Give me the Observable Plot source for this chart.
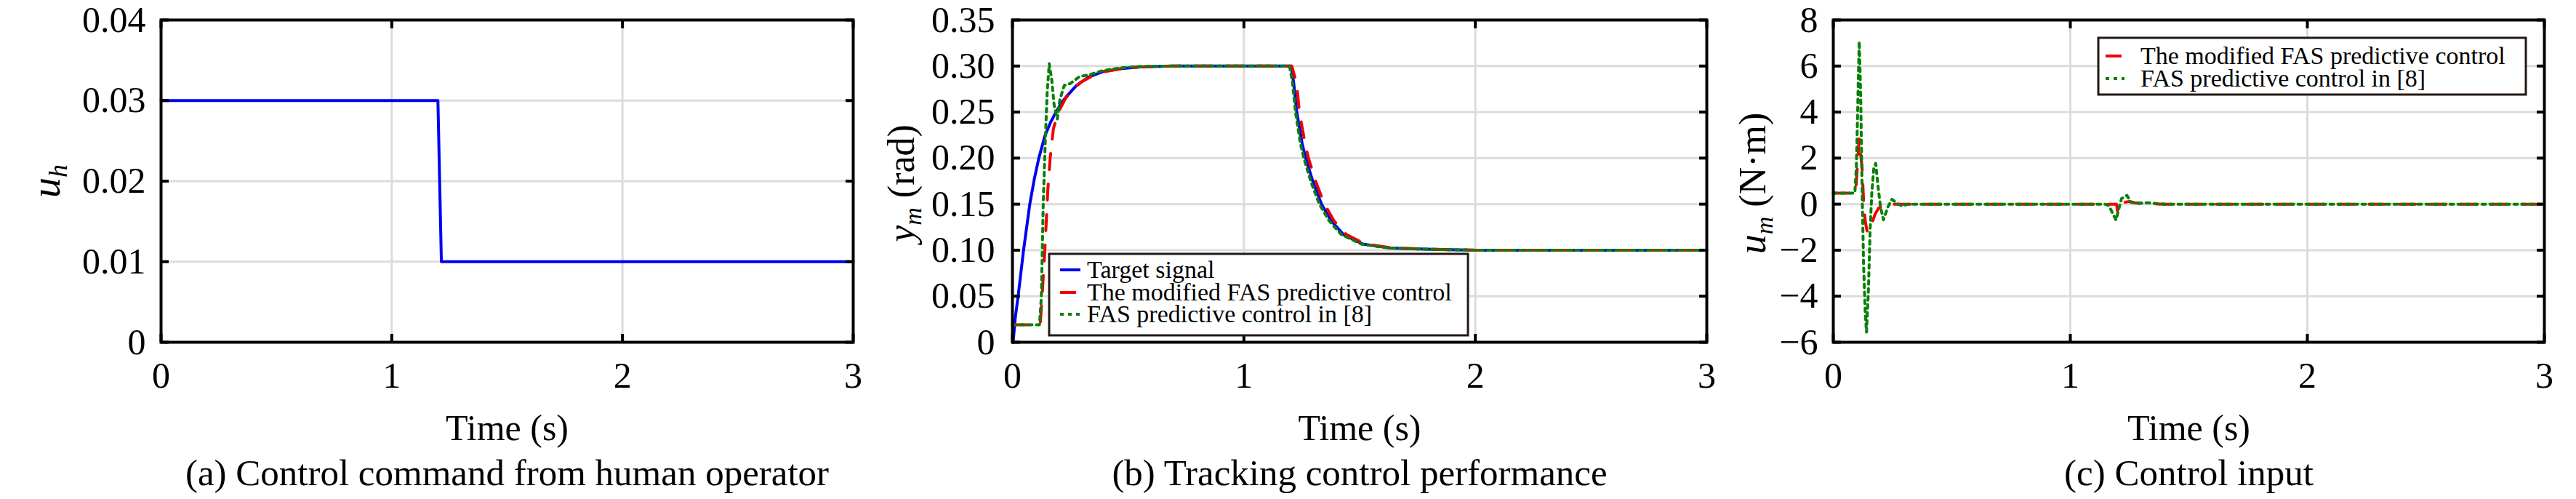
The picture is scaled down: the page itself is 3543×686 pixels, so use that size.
<!DOCTYPE html>
<html>
<head>
<meta charset="utf-8">
<script src="https://cdn.jsdelivr.net/npm/d3@7"></script>
<script src="https://cdn.jsdelivr.net/npm/@observablehq/plot@0.6"></script>
<style>
  body { margin: 0; background: #fff; }
  #wrap { position: relative; width: 3543px; height: 686px; background: #fff; overflow: hidden; }
  #wrap > svg { position: absolute; top: 0; }
</style>
</head>
<body>
<div id="wrap"></div>
<script>
// ---------------- data ----------------
const xTicks = [0, 1, 2, 3];

// (a) control command from human operator
const tCommand = [0, 1.2, 1.215, 3];
const uCommand = [0.03, 0.03, 0.01, 0.01];
const yTicksA = [0, 0.01, 0.02, 0.03, 0.04];

// (b) tracking control performance
const tTarget = [0, 0.003, 0.012, 0.025, 0.048, 0.075, 0.095, 0.114, 0.14, 0.165, 0.188, 0.212, 0.237, 0.277, 0.329, 0.392, 0.465, 0.55, 0.7, 1.204, 1.215, 1.2285, 1.2516, 1.267, 1.2987, 1.3355, 1.377, 1.43, 1.5135, 1.629, 1.786, 2.0, 3];
const yTarget = [0, 0, 0.026, 0.051, 0.100, 0.150, 0.178, 0.200, 0.224, 0.239, 0.250, 0.260, 0.268, 0.279, 0.288, 0.294, 0.297, 0.299, 0.300, 0.300, 0.282, 0.250, 0.216, 0.200, 0.174, 0.150, 0.132, 0.117, 0.1067, 0.1024, 0.1011, 0.100, 0.100];

const tModified = [0, 0.12, 0.127, 0.14, 0.153, 0.163, 0.177, 0.198, 0.23, 0.27, 0.3, 0.35, 0.4, 0.47, 0.55, 0.7, 1.207, 1.227, 1.24, 1.264, 1.279, 1.311, 1.348, 1.389, 1.442, 1.525, 1.64, 1.8, 2.0, 3];
const yModified = [0.019, 0.019, 0.045, 0.100, 0.166, 0.200, 0.232, 0.250, 0.265, 0.277, 0.283, 0.290, 0.294, 0.297, 0.299, 0.300, 0.300, 0.282, 0.250, 0.216, 0.200, 0.174, 0.150, 0.132, 0.117, 0.1067, 0.1024, 0.1011, 0.100, 0.100];

const tFas = [0, 0.117, 0.125, 0.133, 0.142, 0.15, 0.159, 0.17, 0.18, 0.194, 0.205, 0.224, 0.25, 0.29, 0.33, 0.39, 0.465, 0.55, 0.7, 1.197, 1.21, 1.223, 1.244, 1.259, 1.29, 1.326, 1.368, 1.421, 1.506, 1.622, 1.78, 2.0, 3];
const yFas = [0.019, 0.019, 0.050, 0.150, 0.219, 0.271, 0.3026, 0.2846, 0.258, 0.2425, 0.2635, 0.279, 0.281, 0.2886, 0.2905, 0.295, 0.298, 0.2995, 0.300, 0.300, 0.282, 0.250, 0.216, 0.200, 0.174, 0.150, 0.132, 0.117, 0.1067, 0.1024, 0.1011, 0.100, 0.100];
const yTicksB = [0, 0.05, 0.10, 0.15, 0.20, 0.25, 0.30, 0.35];

// (c) control input
const tModifiedU = [0, 0.094, 0.101, 0.109, 0.1217, 0.128, 0.135, 0.142, 0.148, 0.16, 0.176, 0.191, 0.212, 0.253, 1.195, 1.2, 1.214, 1.229, 1.25, 1.275, 1.326, 1.388, 3];
const uModified = [0.48, 0.48, 1.56, 2.83, 1.56, 0.08, -0.76, -1.15, -1.23, -0.92, -0.44, -0.18, -0.05, 0, 0, -0.38, -0.07, 0.08, 0.12, 0.05, 0.03, 0, 0];

const tFasU = [0, 0.091, 0.097, 0.102, 0.1063, 0.1094, 0.1155, 0.1217, 0.1278, 0.135, 0.1401, 0.1483, 0.1554, 0.1626, 0.1708, 0.179, 0.1892, 0.1994, 0.2117, 0.2301, 0.2474, 0.273, 0.2914, 0.3139, 1.147, 1.163, 1.178, 1.193, 1.204, 1.216, 1.239, 1.255, 1.285, 1.321, 1.4, 3];
const uFas = [0.48, 0.48, 1.56, 3.67, 5.78, 7.07, 4.72, 0.5, -2.66, -4.77, -5.56, -3.71, -1.08, 0.5, 1.56, 1.77, 0.72, -0.13, -0.68, -0.13, 0.21, 0, -0.08, 0, 0, -0.07, -0.39, -0.69, -0.23, 0.24, 0.38, 0.08, 0.03, 0.06, 0, 0];
const yTicksC = [-6, -4, -2, 0, 2, 4, 6, 8];

const labelTarget = "Target signal";
const labelModified = "The modified FAS predictive control";
const labelFas = "FAS predictive control in [8]";
const captions = ["(a) Control command from human operator", "(b) Tracking control performance", "(c) Control input"];

// ---------------- styles ----------------
const FONT = '"Liberation Serif","Times New Roman",Times,serif';
const BLUE = "#0000f0", RED = "#f00000", GREEN = "#0a800a";
const DASH_RED = "22,20", DASH_GREEN = "5,6";

const rows = (t, v) => t.map((d, i) => ({t: d, v: v[i]}));

function panel({left, width, ml, mr, yDomain, yTicks, yFmt, series, tickPad, caption}) {
  const tickOpts = {tickSize: -11, strokeWidth: 4, tickFormat: () => "", label: null};
  const marks = [
    Plot.gridX(xTicks, {stroke: "#dcdcdc", strokeOpacity: 1, strokeWidth: 3}),
    Plot.gridY(yTicks, {stroke: "#dcdcdc", strokeOpacity: 1, strokeWidth: 3}),
    ...series.map(s => Plot.line(s.data, {x: "t", y: "v", stroke: s.color, strokeWidth: 4, strokeDasharray: s.dash, strokeLinejoin: "round"})),
    Plot.frame({stroke: "black", strokeWidth: 4}),
    Plot.axisX(xTicks, {anchor: "bottom", tickSize: 0, tickPadding: 27, fontSize: 50, tickFormat: d => String(d), label: null}),
    Plot.axisX(xTicks, {anchor: "bottom", ...tickOpts}),
    Plot.axisX(xTicks, {anchor: "top", ...tickOpts}),
    Plot.axisY(yTicks, {anchor: "left", tickSize: 0, tickPadding: tickPad, fontSize: 50, tickFormat: yFmt, label: null}),
    Plot.axisY(yTicks, {anchor: "left", ...tickOpts}),
    Plot.axisY(yTicks, {anchor: "right", ...tickOpts}),
    Plot.text(["Time (s)"], {text: d => d, frameAnchor: "bottom", lineAnchor: "bottom", dy: 134, fontSize: 50}),
    Plot.text([caption], {text: d => d, frameAnchor: "bottom", lineAnchor: "bottom", dy: 196, fontSize: 51})
  ];
  const svg = Plot.plot({
    width, height: 686,
    marginLeft: ml, marginRight: mr, marginTop: 27, marginBottom: 216,
    x: {domain: [0, 3]},
    y: {domain: yDomain},
    style: {fontFamily: FONT, background: "white", color: "black"},
    marks
  });
  svg.style.left = left + "px";
  return svg;
}

function addYLabel(svg, x, y, parts) {
  const t = d3.select(svg).append("text")
    .attr("transform", `translate(${x},${y}) rotate(-90)`)
    .attr("text-anchor", "middle")
    .attr("font-family", FONT)
    .attr("fill", "black");
  parts.forEach(p => t.append("tspan")
    .attr("font-style", p.italic ? "italic" : "normal")
    .attr("font-size", p.size)
    .attr("dy", p.dy || 0)
    .text(p.text));
}

function addLegend(svg, box, items, sx, tx, rowY) {
  const g = d3.select(svg).append("g").attr("text-anchor", "start");
  g.append("rect").attr("x", box[0]).attr("y", box[1]).attr("width", box[2]).attr("height", box[3])
    .attr("fill", "white").attr("stroke", "#231815").attr("stroke-width", 3);
  items.forEach((it, i) => {
    g.append("line").attr("x1", sx[0]).attr("x2", sx[1]).attr("y1", rowY[i]).attr("y2", rowY[i])
      .attr("stroke", it.color).attr("stroke-width", 4).attr("stroke-dasharray", it.dash || null);
    g.append("text").attr("x", tx).attr("y", rowY[i]).attr("dy", "0.32em")
      .attr("text-anchor", "start")
      .attr("font-family", FONT).attr("font-size", 34).attr("fill", "black").text(it.label);
  });
}

const fmt2 = d => d === 0 ? "0" : d.toFixed(2);
const wrap = document.getElementById("wrap");

// panel (a)
const svgA = panel({
  left: 0, width: 1190, ml: 221, mr: 17,
  yDomain: [0, 0.04], yTicks: yTicksA, yFmt: fmt2, tickPad: 21,
  series: [{data: rows(tCommand, uCommand), color: BLUE}],
  caption: captions[0]
});
addYLabel(svgA, 82, 249, [
  {text: "u", italic: true, size: 56},
  {text: "h", italic: true, size: 36, dy: 10}
]);
wrap.appendChild(svgA);

// panel (b)
const svgB = panel({
  left: 1190, width: 1170, ml: 202, mr: 13,
  yDomain: [0, 0.35], yTicks: yTicksB, yFmt: fmt2, tickPad: 24,
  series: [
    {data: rows(tTarget, yTarget), color: BLUE},
    {data: rows(tModified, yModified), color: RED, dash: DASH_RED},
    {data: rows(tFas, yFas), color: GREEN, dash: DASH_GREEN}
  ],
  caption: captions[1]
});
addYLabel(svgB, 67, 252, [
  {text: "y", italic: true, size: 52},
  {text: "m", italic: true, size: 34, dy: 10},
  {text: " (rad)", italic: false, size: 52, dy: -10}
]);
addLegend(svgB, [253, 349, 576, 112], [
  {label: labelTarget, color: BLUE},
  {label: labelModified, color: RED, dash: DASH_RED},
  {label: labelFas, color: GREEN, dash: DASH_GREEN}
], [268, 296], 305, [371, 402, 432]);
wrap.appendChild(svgB);

// panel (c)
const svgC = panel({
  left: 2360, width: 1183, ml: 161, mr: 44,
  yDomain: [-6, 8], yTicks: yTicksC, yFmt: d => d < 0 ? "\u2212" + Math.abs(d) : String(d), tickPad: 21,
  series: [
    {data: rows(tModifiedU, uModified), color: RED, dash: DASH_RED},
    {data: rows(tFasU, uFas), color: GREEN, dash: DASH_GREEN}
  ],
  caption: captions[2]
});
addYLabel(svgC, 68, 252, [
  {text: "u", italic: true, size: 54},
  {text: "m", italic: true, size: 34, dy: 10},
  {text: " (N\u00b7m)", italic: false, size: 52, dy: -10}
]);
addLegend(svgC, [526, 52, 588, 78], [
  {label: labelModified, color: RED, dash: DASH_RED},
  {label: labelFas, color: GREEN, dash: DASH_GREEN}
], [536, 562], 584, [77, 108]);
wrap.appendChild(svgC);
</script>
</body>
</html>
